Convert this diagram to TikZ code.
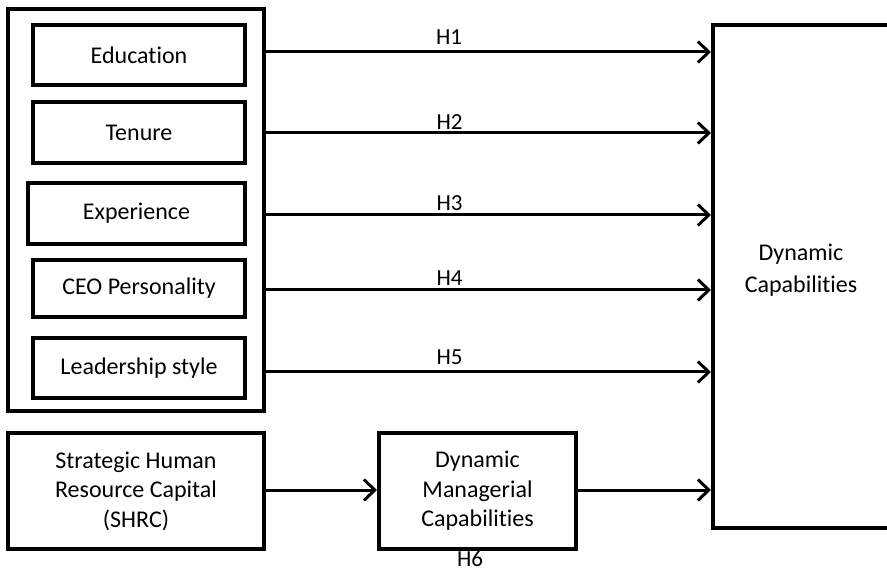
\documentclass[tikz,border=0pt]{standalone}
\usepackage{fontspec}
\setmainfont[Ligatures={NoCommon}]{Carlito}
\usetikzlibrary{arrows.meta}
\begin{document}
\begin{tikzpicture}[x=1pt,y=-1pt,
  box/.style={draw,line width=4pt,rectangle,inner sep=0pt,align=center,
    font=\fontsize{24}{29.5}\selectfont},
  arr/.style={line width=3pt,-{Straight Barb[length=11pt,width=21pt,line width=3pt]}},
  hlab/.style={font=\fontsize{23}{26}\selectfont,inner sep=0pt}]
\useasboundingbox (0,0) rectangle (887,569);
\node[box,minimum width=256pt,minimum height=402pt] (outer) at (136,210) {};
\node[box,minimum width=212pt,minimum height=60pt] (edu) at (139,55) {Education};
\node[box,minimum width=212pt,minimum height=61pt] (ten) at (139,132.5) {Tenure};
\node[box,minimum width=217pt,minimum height=61pt] (exp) at (136.5,213.5) {Experience};
\node[box,minimum width=212pt,minimum height=57pt] (ceo) at (139,288.5) {CEO Personality};
\node[box,minimum width=212pt,minimum height=60pt] (lead) at (139,368) {Leadership style};
\node[box,minimum width=256pt,minimum height=116pt] (shrc) at (136,491) {Strategic Human\\Resource Capital\\(SHRC)};
\node[box,minimum width=197pt,minimum height=116pt] (dmc) at (477.5,491) {Dynamic\\Managerial\\Capabilities};
\node[box,minimum width=200pt,minimum height=503pt] (dc) at (813,276.5) {};
\node[align=center,inner sep=0pt,font=\fontsize{24}{32}\selectfont] (dctext) at (801,270) {Dynamic\\Capabilities};
\coordinate (y1) at (0,52);
\coordinate (y2) at (0,133);
\coordinate (y3) at (0,215);
\coordinate (y4) at (0,290);
\coordinate (y5) at (0,372);
\coordinate (y6) at (0,490);
\draw[arr] (outer.east |- y1) -- (dc.west |- y1);
\draw[arr] (outer.east |- y2) -- (dc.west |- y2);
\draw[arr] (outer.east |- y3) -- (dc.west |- y3);
\draw[arr] (outer.east |- y4) -- (dc.west |- y4);
\draw[arr] (outer.east |- y5) -- (dc.west |- y5);
\draw[arr] (shrc.east |- y6) -- (dmc.west |- y6);
\draw[arr] (dmc.east |- y6) -- (dc.west |- y6);
\node[hlab] (h1) at (449,37.5) {H1};
\node[hlab] (h2) at (449.5,122) {H2};
\node[hlab] (h3) at (449.5,203.5) {H3};
\node[hlab] (h4) at (449.5,278.5) {H4};
\node[hlab] (h5) at (449.5,357) {H5};
\node[hlab] (h6) at (470,559) {H6};
\end{tikzpicture}
\end{document}
